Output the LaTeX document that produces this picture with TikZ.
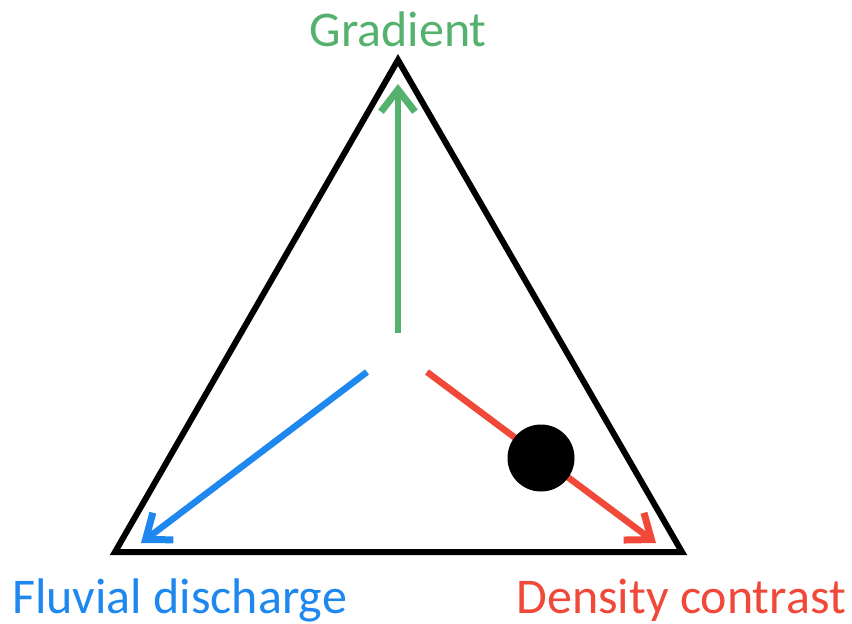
\documentclass[tikz,border=0pt]{standalone}
\usepackage{fontspec}
\setmainfont{Carlito}
\usetikzlibrary{arrows.meta,positioning}
\definecolor{ink}{HTML}{000000}
\definecolor{gradgreen}{HTML}{55B26E}
\definecolor{flowblue}{HTML}{1E88EE}
\definecolor{densred}{HTML}{F0493A}
\tikzset{
  axisarr/.style={-{Straight Barb[length=22pt,width=34pt,line width=7pt]},line width=6.5pt},
  axislabel/.style={font=\fontsize{50}{58}\selectfont,inner sep=0pt}
}
\begin{document}
\begin{tikzpicture}[x=1pt,y=-1pt]
  \useasboundingbox (0,0) rectangle (852,624);
  % triangle corners
  \coordinate (top) at (398,60);
  \coordinate (left) at (115,552);
  \coordinate (right) at (682,552);
  \draw[ink,line width=6pt,line join=miter] (top) -- (left) -- (right) -- cycle;
  % arrows from the centre
  \coordinate (gstart) at (398,333);
  \coordinate (gend) at (398,84);
  \coordinate (bstart) at (367,372);
  \coordinate (bend) at (141,543);
  \coordinate (rstart) at (427,372);
  \coordinate (rend) at (656,543);
  \draw[axisarr,gradgreen] (gstart) -- (gend);
  \draw[axisarr,flowblue] (bstart) -- (bend);
  \draw[axisarr,densred] (rstart) -- (rend);
  \node[circle,fill=ink,minimum size=67pt,inner sep=0pt] (dot) at (541,458) {};
  % labels
  \node[axislabel,text=gradgreen] (gradlbl) at (398,29) {Gradient};
  \node[axislabel,text=flowblue,anchor=west] (fluvlbl) at (12,600) {Fluvial discharge};
  \node[axislabel,text=densred,anchor=east] (denslbl) at (846,600) {Density contrast};
\end{tikzpicture}
\end{document}
